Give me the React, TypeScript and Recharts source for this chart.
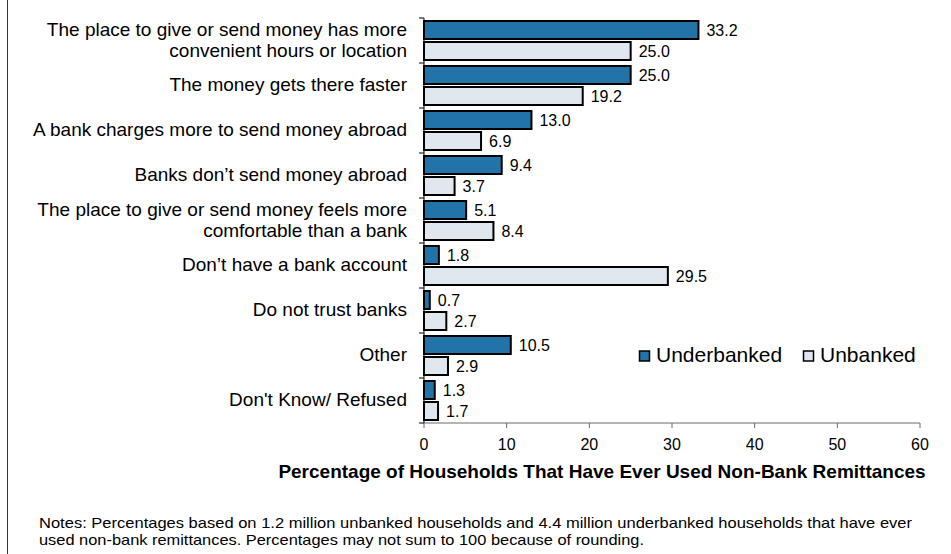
import React from 'react';
import { BarChart, Bar, XAxis, YAxis, LabelList, Label } from 'recharts';

const categories = [
  'The place to give or send money has more\nconvenient hours or location',
  'The money gets there faster',
  'A bank charges more to send money abroad',
  'Banks don\u2019t send money abroad',
  'The place to give or send money feels more\ncomfortable than a bank',
  'Don\u2019t have a bank account',
  'Do not trust banks',
  'Other',
  "Don't Know/ Refused",
];
const underbanked = [33.2, 25.0, 13.0, 9.4, 5.1, 1.8, 0.7, 10.5, 1.3];
const unbanked = [25.0, 19.2, 6.9, 3.7, 8.4, 29.5, 2.7, 2.9, 1.7];
const xTicks = [0, 10, 20, 30, 40, 50, 60];
const seriesNames = ['Underbanked', 'Unbanked'];
const xTitle = 'Percentage of Households That Have Ever Used Non-Bank Remittances';
const notes = [
  'Notes: Percentages based on 1.2  million unbanked households and 4.4 million underbanked households that have ever',
  'used non-bank remittances. Percentages may not sum to 100 because of rounding.',
];

const data = categories.map((name, i) => ({
  name,
  underbanked: underbanked[i],
  unbanked: unbanked[i],
}));

const W = 951;
const H = 554;
const MARGIN = { top: 18, right: 31, bottom: 71, left: 0 };
const X_AXIS_H = 60;
const Y_AXIS_W = 424;
const PLOT_H = H - MARGIN.top - MARGIN.bottom - X_AXIS_H;
const BAND = PLOT_H / categories.length;
const Y_TICK_MARGIN = 17;
const FONT = '"Liberation Sans", Arial, sans-serif';
const BLUE = '#2273A8';
const LIGHT = '#E1E7EF';

const CatTick = (props: any) => {
  const { x, y, payload, index } = props;
  const lines = String(payload.value).split('\n');
  const axisX = x + Y_TICK_MARGIN;
  const lh = 21;
  const startY = y + 5.5 - ((lines.length - 1) * lh) / 2;
  return (
    <g>
      <line x1={axisX - 5} x2={axisX} y1={y - BAND / 2} y2={y - BAND / 2} stroke="#000" strokeWidth={1} />
      {index === categories.length - 1 && (
        <line x1={axisX - 5} x2={axisX} y1={y + BAND / 2} y2={y + BAND / 2} stroke="#000" strokeWidth={1} />
      )}
      <text x={x} y={startY} textAnchor="end" fontSize={19} fill="#000" fontFamily={FONT}>
        {lines.map((l, i) => (
          <tspan key={i} x={x} y={startY + i * lh}>
            {l}
          </tspan>
        ))}
      </text>
    </g>
  );
};

const TitleContent = (props: any) => {
  const vb = props.viewBox || {};
  return (
    <text
      x={vb.x + vb.width / 2 - 70}
      y={vb.y + 55}
      textAnchor="middle"
      fontSize={19}
      fontWeight="bold"
      fill="#000"
      fontFamily={FONT}
    >
      {xTitle}
    </text>
  );
};

const LegendBox = () => (
  <svg width={300} height={30} style={{ position: 'absolute', left: 630, top: 340, overflow: 'visible' }}>
    <rect x={9.5} y={11} width={10} height={10} fill={BLUE} stroke="#000" strokeWidth={1.5} />
    <text x={26} y={22} fontSize={21} fill="#000" fontFamily={FONT}>
      {seriesNames[0]}
    </text>
    <rect x={173.5} y={11} width={10} height={10} fill={LIGHT} stroke="#000" strokeWidth={1.5} />
    <text x={190} y={22} fontSize={21} fill="#000" fontFamily={FONT}>
      {seriesNames[1]}
    </text>
  </svg>
);

const fmt = (v: any) => Number(v).toFixed(1);

export default function App() {
  return (
    <div style={{ position: 'absolute', left: 0, top: 0, width: W, height: H, background: '#fff', fontFamily: FONT }}>
      <div style={{ position: 'absolute', left: 7, top: 0, width: 1, height: H, background: '#333' }} />
      <BarChart
        width={W}
        height={H}
        data={data}
        layout="vertical"
        margin={MARGIN}
        barSize={18}
        barGap={3}
      >
        <XAxis
          type="number"
          domain={[0, 60]}
          ticks={xTicks}
          height={X_AXIS_H}
          tickSize={5}
          tickMargin={11}
          axisLine={{ stroke: '#6a6a6a', strokeWidth: 1 }}
          tickLine={{ stroke: '#6a6a6a' }}
          tick={{ fontSize: 16, fill: '#000', fontFamily: FONT }}
        >
          <Label content={TitleContent} />
        </XAxis>
        <YAxis
          type="category"
          dataKey="name"
          width={Y_AXIS_W}
          tickSize={0}
          tickMargin={Y_TICK_MARGIN}
          tickLine={false}
          axisLine={{ stroke: '#000', strokeWidth: 1 }}
          tick={<CatTick />}
          interval={0}
        />
        <Bar dataKey="underbanked" name={seriesNames[0]} fill={BLUE} stroke="#000" strokeWidth={2} isAnimationActive={false}>
          <LabelList dataKey="underbanked" position="right" offset={8} formatter={fmt} fill="#000" fontSize={16} fontFamily={FONT} />
        </Bar>
        <Bar dataKey="unbanked" name={seriesNames[1]} fill={LIGHT} stroke="#000" strokeWidth={2} isAnimationActive={false}>
          <LabelList dataKey="unbanked" position="right" offset={8} formatter={fmt} fill="#000" fontSize={16} fontFamily={FONT} />
        </Bar>
      </BarChart>
      <LegendBox />
      <svg width={W} height={44} style={{ position: 'absolute', left: 0, top: 510 }}>
        <text x={39} y={18} fontSize={15} fill="#000" fontFamily={FONT} textLength={873} lengthAdjust="spacingAndGlyphs">
          {notes[0]}
        </text>
        <text x={39} y={35} fontSize={15} fill="#000" fontFamily={FONT} textLength={605} lengthAdjust="spacingAndGlyphs">
          {notes[1]}
        </text>
      </svg>
    </div>
  );
}
